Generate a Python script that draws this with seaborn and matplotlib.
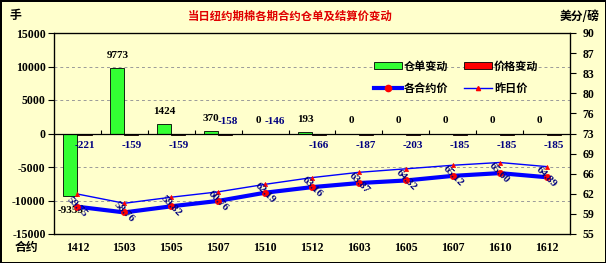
import numpy as np
import pandas as pd
import matplotlib
matplotlib.use("Agg")
import matplotlib.pyplot as plt
import seaborn as sns
from matplotlib.lines import Line2D
from matplotlib.patches import Patch
from matplotlib.font_manager import FontProperties

# ---- data ----
contracts = ['1412', '1503', '1505', '1507', '1510', '1512', '1603', '1605', '1607', '1610', '1612']
receipt_change = [-9353, 9773, 1424, 370, 0, 193, 0, 0, 0, 0, 0]
price_change = [-221, -159, -159, -158, -146, -166, -187, -203, -185, -185, -185]
settle_price = [59.75, 58.76, 59.82, 60.76, 62.19, 63.16, 63.87, 64.32, 65.12, 65.60, 64.89]
prev_price = [61.96, 60.35, 61.41, 62.34, 63.65, 64.82, 65.74, 66.35, 66.97, 67.45, 66.74]
left_ticks = [-15000, -10000, -5000, 0, 5000, 10000, 15000]
right_ticks = [55, 58.5, 62, 65.5, 69, 72.5, 76, 79.5, 83, 86.5, 90]
right_tick_labels = ['55', '59', '62', '66', '69', '73', '76', '80', '83', '87', '90']
series_names = ['仓单变动', '价格变动', '各合约价', '昨日价']

# ---- style ----
BG = '#FFFFCC'
GREEN = '#33FF33'
RED = '#FF0000'
BLUE = '#0000FF'
NAVY = '#000080'
num_font = ['Liberation Serif', 'Noto Sans CJK SC']
cjk_font = ['Noto Sans CJK SC', 'DejaVu Sans']

plt.rcParams['font.family'] = num_font
plt.rcParams['font.weight'] = 'bold'

fig = plt.figure(figsize=(6.06, 2.63), dpi=100)
fig.patch.set_facecolor(BG)
fig.patch.set_edgecolor('black')
fig.patch.set_linewidth(2)

ax = fig.add_axes([54 / 606, 1 - 234 / 263, (570 - 54) / 606, (234 - 33) / 263])
ax.set_facecolor(BG)

df = pd.DataFrame({
    '合约': contracts * 2,
    '类型': [series_names[0]] * len(contracts) + [series_names[1]] * len(contracts),
    '值': receipt_change + price_change,
})
sns.barplot(data=df, x='合约', y='值', hue='类型', order=contracts,
            hue_order=series_names[:2],
            palette={series_names[0]: GREEN, series_names[1]: RED},
            width=0.6, saturation=1, edgecolor='black', linewidth=0.6,
            legend=False, ax=ax, zorder=3)

ax.set_ylim(-15000, 15000)
ax.set_yticks(left_ticks)
ax.set_yticklabels([str(t) for t in left_ticks])
ax.set_xlim(-0.5, len(contracts) - 0.5)
ax.set_xlabel('')
ax.set_ylabel('')
for t in left_ticks:
    if t not in (0, 15000, -15000):
        ax.axhline(t, color='#9A9A9A', lw=0.7, ls=(0, (3, 3)), zorder=1)
ax.axhline(0, color='black', lw=0.9, zorder=4)
ax.vlines(np.arange(0.5, len(contracts) - 0.5), 0, 450, color='black', lw=0.8, zorder=4)
ax.tick_params(axis='x', length=0, pad=6, labelsize=8.5)
ax.tick_params(axis='y', length=4, width=0.8, pad=2, labelsize=8.5)
for sp in ax.spines.values():
    sp.set_linewidth(0.9)
    sp.set_color('black')

# bar labels
green_bars, red_bars = ax.containers[0], ax.containers[1]
for bar, v in zip(green_bars, receipt_change):
    cx = bar.get_x() + bar.get_width() / 2
    off = 6 if v >= 0 else -7
    ax.annotate(str(v), (cx, v), xytext=(0, off), textcoords='offset points',
                ha='center', va='bottom' if v >= 0 else 'top', fontsize=8,
                fontweight='bold', color='black', zorder=6)
red_above = [False, False, False, True, True, False, False, False, False, False, False]
for bar, v, up in zip(red_bars, price_change, red_above):
    cx = bar.get_x() + bar.get_width() / 2
    ax.annotate(str(v), (cx, 0), xytext=(2 if up else 0, 9 if up else -9),
                textcoords='offset points',
                ha='center', va='center', fontsize=8, fontweight='bold',
                color=NAVY, zorder=6)

# right axis lines
ax2 = ax.twinx()
sns.pointplot(x=contracts, y=prev_price, order=contracts, ax=ax2, color=BLUE,
              markers='^', linestyles='-', errorbar=None, linewidth=1,
              markersize=3, markerfacecolor=RED, markeredgecolor=RED,
              markeredgewidth=0.5)
sns.pointplot(x=contracts, y=settle_price, order=contracts, ax=ax2, color=BLUE,
              markers='o', linestyles='-', errorbar=None, linewidth=3,
              markersize=4.5, markerfacecolor=RED, markeredgecolor=RED,
              markeredgewidth=0.5)
ax2.set_ylim(55, 90)
ax2.set_yticks(right_ticks)
ax2.set_yticklabels(right_tick_labels)
ax2.set_xlim(-0.5, len(contracts) - 0.5)
ax2.set_ylabel('')
ax2.tick_params(axis='y', length=4, width=0.8, pad=5, labelsize=8.5)
for i, v in enumerate(settle_price):
    ax2.text(i, v, f'{v:.2f}', rotation=-45, rotation_mode='anchor',
             ha='center', va='center', fontsize=8, fontweight='bold',
             color=NAVY, zorder=7)

# legend
cjk_prop = FontProperties(family=cjk_font, weight='bold', size=8)
handles = [
    Patch(facecolor=GREEN, edgecolor='black', linewidth=0.6),
    Line2D([], [], color=BLUE, lw=3, marker='o', markersize=4.5,
           markerfacecolor=RED, markeredgecolor=RED),
    Patch(facecolor=RED, edgecolor='black', linewidth=0.6),
    Line2D([], [], color=BLUE, lw=1, marker='^', markersize=3,
           markerfacecolor=RED, markeredgecolor=RED),
]
labels = [series_names[0], series_names[2], series_names[1], series_names[3]]
fig.legend(handles, labels, loc='upper left', bbox_to_anchor=(366 / 606, 1 - 52 / 263),
           ncol=2, frameon=False, prop=cjk_prop, handlelength=2.5, handleheight=0.6,
           handletextpad=0.2, columnspacing=1.4, labelspacing=0.8, borderpad=0.2)

# texts
fig.text(290 / 606, 1 - 16 / 263, '当日纽约期棉各期合约仓单及结算价变动', ha='center', va='center',
         fontproperties=FontProperties(family=cjk_font, weight='bold', size=8.2), color='#E00000')
fig.text(15 / 606, 1 - 16 / 263, '手', ha='center', va='center',
         fontproperties=FontProperties(family=cjk_font, weight='bold', size=8.5), color='black')
fig.text(580 / 606, 1 - 17 / 263, '美分/磅', ha='center', va='center',
         fontproperties=FontProperties(family=cjk_font, weight='bold', size=8.5), color='black')
fig.text(26 / 606, 1 - 247 / 263, '合约', ha='center', va='center',
         fontproperties=FontProperties(family=cjk_font, weight='bold', size=8.5), color='black')

fig.savefig('out.png', dpi=100, facecolor=BG, edgecolor='black')
